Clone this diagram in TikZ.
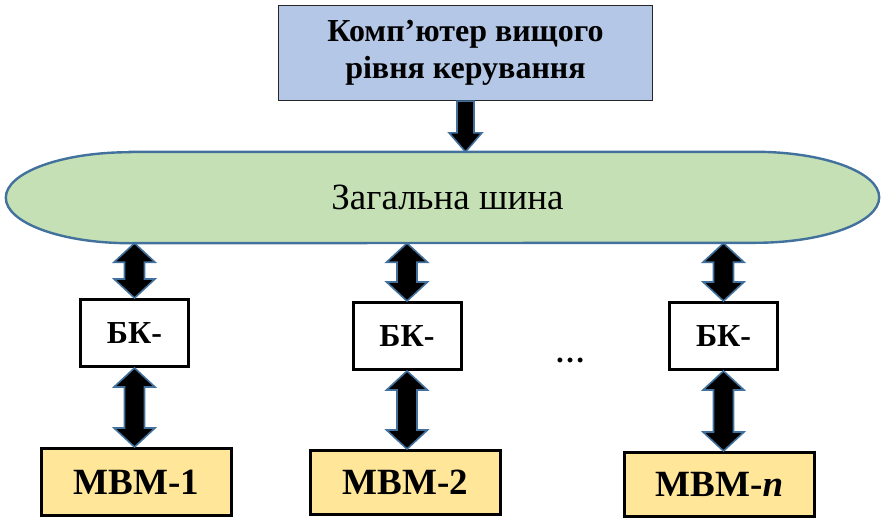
\documentclass[tikz,border=0pt]{standalone}
\usepackage{fontspec}
\setmainfont{Liberation Serif}
\usetikzlibrary{calc,backgrounds}
\definecolor{topfill}{HTML}{B4C7E7}
\definecolor{busfill}{HTML}{C5E0B4}
\definecolor{blueline}{HTML}{41719C}
\definecolor{mbmfill}{HTML}{FFE699}
\newcommand\blockdbl[2]{\path[blockarrow] let \p1=(#1), \p2=(#2) in
  (\x1,\y1) -- (\x1+20.5pt,\y1-19pt) -- (\x1+10pt,\y1-19pt) -- (\x1+10pt,\y2+19pt)
  -- (\x1+20.5pt,\y2+19pt) -- (\x1,\y2) -- (\x1-20.5pt,\y2+19pt) -- (\x1-10pt,\y2+19pt)
  -- (\x1-10pt,\y1-19pt) -- (\x1-20.5pt,\y1-19pt) -- cycle;}
\newcommand\blockdown[2]{\path[blockarrow] let \p1=(#1), \p2=(#2) in
  (\x1-8.5pt,\y1) -- (\x1+8.5pt,\y1) -- (\x1+8.5pt,\y2+19pt) -- (\x1+16.5pt,\y2+19pt)
  -- (\x1,\y2) -- (\x1-16.5pt,\y2+19pt) -- (\x1-8.5pt,\y2+19pt) -- cycle;}
\begin{document}
\begin{tikzpicture}[x=1pt,y=-1pt,
  topbox/.style={draw=black!85, line width=1.2pt, fill=topfill, minimum width=374pt,
    minimum height=95pt, inner sep=0pt, align=center,
    font=\fontsize{32}{37}\selectfont\bfseries},
  busnode/.style={minimum width=873pt, minimum height=91pt, inner sep=0pt,
    font=\fontsize{37}{40}\selectfont},
  busshape/.style={fill=busfill, draw=blueline, line width=2.4pt},
  bkbox/.style={draw=black, line width=3pt, fill=white, minimum width=108pt,
    minimum height=67pt, inner sep=0pt, font=\fontsize{32}{34}\selectfont\bfseries},
  mbmbox/.style={draw=black, line width=3pt, fill=mbmfill, minimum width=190pt,
    minimum height=64pt, inner sep=0pt, font=\fontsize{37}{40}\selectfont\bfseries},
  dotsnode/.style={inner sep=0pt, font=\fontsize{30}{30}\selectfont\bfseries},
  blockarrow/.style={fill=black, draw=blueline, line width=1.6pt, line join=miter}
]
\useasboundingbox (0,0) rectangle (881,519);

% top computer
\node[topbox] (top) at (465.5,53) {Комп’ютер вищого\\рівня керування};

% bus
\node[busnode] (bus) at (442.5,197.5) {\hspace*{10pt}Загальна шина};
\begin{scope}[on background layer]
  \path[busshape] ([xshift=124pt]bus.north west) -- ([xshift=-124pt]bus.north east)
    arc[start angle=90, end angle=-90, x radius=124pt, y radius=45.5pt]
    -- ([xshift=124pt]bus.south west)
    arc[start angle=270, end angle=90, x radius=124pt, y radius=45.5pt] -- cycle;
\end{scope}

% bus couplers
\node[bkbox] (bk1) at (134.5,333) {БК-};
\node[bkbox] (bk2) at (407,336) {БК-};
\node[bkbox] (bk3) at (723.5,336) {БК-};

% machines
\node[mbmbox, minimum height=67pt] (m1) at (136.5,482) {МВМ-1};
\node[mbmbox] (m2) at (405.5,482.5) {МВМ-2};
\node[mbmbox] (m3) at (719.5,484.5) {МВМ-\textit{n}};

\node[dotsnode] (dots) at (570,360) {…};

% arrows
\blockdown{top.south}{top.south |- bus.north}
\blockdbl{bk1.north |- bus.south}{bk1.north}
\blockdbl{bk2.north |- bus.south}{bk2.north}
\blockdbl{bk3.north |- bus.south}{bk3.north}
\blockdbl{bk1.south}{bk1.south |- m1.north}
\blockdbl{bk2.south}{bk2.south |- m2.north}
\blockdbl{bk3.south}{bk3.south |- m3.north}
\end{tikzpicture}
\end{document}
